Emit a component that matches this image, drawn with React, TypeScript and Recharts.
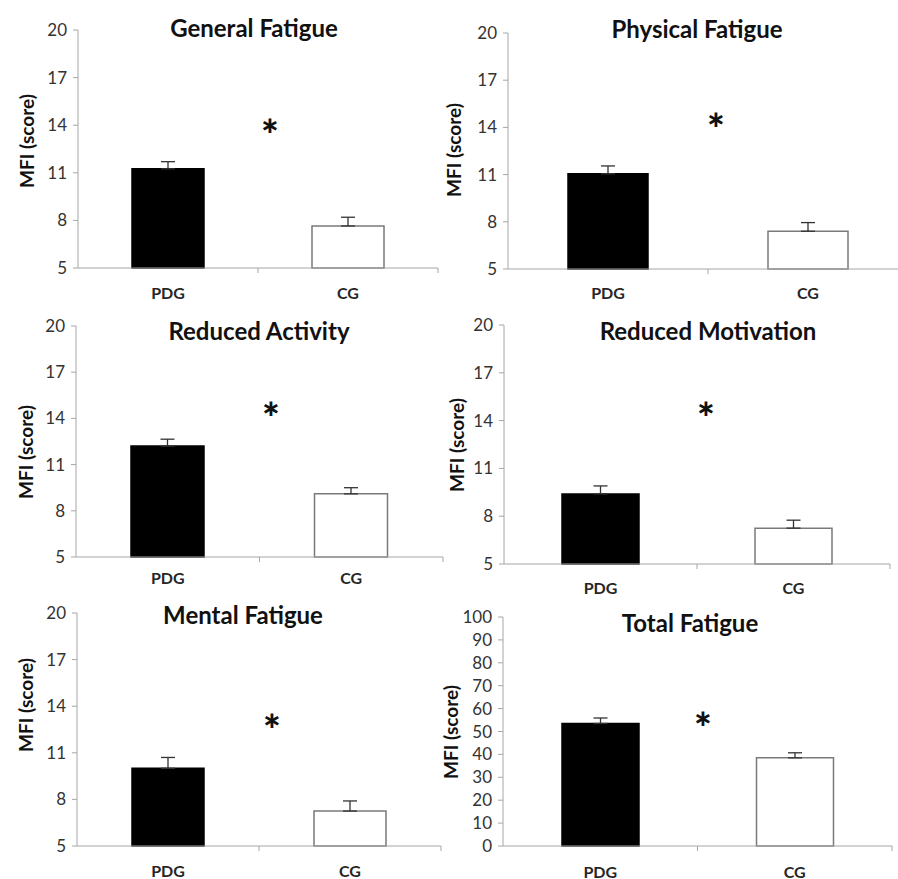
import React from 'react';
import { BarChart, Bar, XAxis, YAxis, ErrorBar, Cell } from 'recharts';

const groups = ['PDG', 'CG'];

const generalFatigue = [11.25, 7.65];
const generalFatigueErr = [0.45, 0.55];
const physicalFatigue = [11.05, 7.4];
const physicalFatigueErr = [0.5, 0.55];
const reducedActivity = [12.2, 9.1];
const reducedActivityErr = [0.45, 0.4];
const reducedMotivation = [9.4, 7.25];
const reducedMotivationErr = [0.5, 0.5];
const mentalFatigue = [10.0, 7.25];
const mentalFatigueErr = [0.7, 0.65];
const totalFatigue = [53.5, 38.5];
const totalFatigueErr = [2.4, 2.2];

const scoreTicks = [5, 8, 11, 14, 17, 20];
const totalTicks = [0, 10, 20, 30, 40, 50, 60, 70, 80, 90, 100];

const FONT = 'Lato, "Open Sans", sans-serif';
const AXIS = '#a6a6a6';
const fills = ['#000000', '#ffffff'];
const strokes = ['#000000', '#7a7a7a'];

const makeRows = (values: number[], errs: number[]) =>
  groups.map((g, i) => ({ group: g, value: values[i], err: [0, errs[i]] }));

const GroupTick = (props: any) => {
  const { x, y, payload, gap } = props;
  const off = payload.offset || 0;
  return (
    <g>
      <line x1={x + off} y1={y} x2={x + off} y2={y + 5} stroke={AXIS} />
      <text
        x={x}
        y={y + gap}
        textAnchor="middle"
        dominantBaseline="central"
        fontFamily={FONT}
        fontWeight="bold"
        fontSize={16}
        fill="#262626"
      >
        {payload.value}
      </text>
    </g>
  );
};

type PanelProps = {
  title: string;
  values: number[];
  errs: number[];
  ticks: number[];
  left: number;
  top: number;
  w: number;
  h: number;
  axisW: number;
  mTop: number;
  mRight: number;
  xH: number;
  gap: number;
  barSize: number;
  titleAt: [number, number];
  starAt: [number, number];
  labelAt: [number, number];
};

const Panel = (p: PanelProps) => {
  const data = makeRows(p.values, p.errs);
  return (
    <>
      <div style={{ position: 'absolute', left: p.left, top: p.top }}>
        <BarChart
          width={p.w}
          height={p.h}
          data={data}
          margin={{ top: p.mTop, right: p.mRight, bottom: 0, left: 0 }}
        >
          <XAxis
            dataKey="group"
            height={p.xH}
            axisLine={{ stroke: AXIS }}
            tickLine={false}
            tickSize={0}
            tickMargin={0}
            interval={0}
            tick={<GroupTick gap={p.gap} />}
          />
          <YAxis
            width={p.axisW}
            domain={[p.ticks[0], p.ticks[p.ticks.length - 1]]}
            ticks={p.ticks}
            interval={0}
            axisLine={{ stroke: AXIS }}
            tickLine={{ stroke: AXIS }}
            tickSize={5}
            tickMargin={6}
            tick={{ fill: '#333333', fontSize: 17, fontFamily: FONT }}
          />
          <Bar dataKey="value" barSize={p.barSize} isAnimationActive={false} strokeWidth={1.5}>
            {data.map((d, i) => (
              <Cell key={d.group} fill={fills[i]} stroke={strokes[i]} />
            ))}
            <ErrorBar dataKey="err" width={7} stroke="#333333" strokeWidth={1.3} direction="y" />
          </Bar>
        </BarChart>
      </div>
      <div
        style={{
          position: 'absolute',
          left: p.titleAt[0],
          top: p.titleAt[1],
          transform: 'translate(-50%, -50%)',
          fontFamily: FONT,
          fontWeight: 'bold',
          fontSize: 24,
          color: '#111',
          whiteSpace: 'nowrap',
        }}
      >
        {p.title}
      </div>
      <div
        style={{
          position: 'absolute',
          left: p.starAt[0],
          top: p.starAt[1],
          transform: 'translate(-50%, -28%)',
          fontFamily: FONT,
          fontWeight: 900,
          fontSize: 42,
          lineHeight: 1,
          color: '#111',
        }}
      >
        *
      </div>
      <div
        style={{
          position: 'absolute',
          left: p.labelAt[0],
          top: p.labelAt[1],
          transform: 'translate(-50%, -50%) rotate(-90deg)',
          fontFamily: FONT,
          fontWeight: 'bold',
          fontSize: 19,
          color: '#111',
          whiteSpace: 'nowrap',
        }}
      >
        MFI (score)
      </div>
    </>
  );
};

export default function App() {
  return (
    <div
      style={{
        position: 'absolute',
        left: 0,
        top: 0,
        width: 898,
        height: 879,
        overflow: 'hidden',
        background: '#fff',
      }}
    >
      <Panel title="General Fatigue" values={generalFatigue} errs={generalFatigueErr} ticks={scoreTicks}
        left={0} top={0} w={450} h={300} axisW={78} mTop={30} mRight={12} xH={32} gap={24} barSize={72}
        titleAt={[254, 27]} starAt={[270, 125]} labelAt={[26, 141]} />
      <Panel title="Physical Fatigue" values={physicalFatigue} errs={physicalFatigueErr} ticks={scoreTicks}
        left={440} top={0} w={470} h={300} axisW={68} mTop={33} mRight={2} xH={31} gap={23} barSize={80}
        titleAt={[697, 28]} starAt={[716, 119]} labelAt={[453, 150]} />
      <Panel title="Reduced Activity" values={reducedActivity} errs={reducedActivityErr} ticks={scoreTicks}
        left={0} top={290} w={450} h={300} axisW={76} mTop={36} mRight={7} xH={33} gap={20} barSize={73}
        titleAt={[259, 330]} starAt={[271, 408]} labelAt={[25, 452]} />
      <Panel title="Reduced Motivation" values={reducedMotivation} errs={reducedMotivationErr} ticks={scoreTicks}
        left={440} top={290} w={458} h={310} axisW={64} mTop={35} mRight={8} xH={36} gap={23} barSize={77}
        titleAt={[708, 330]} starAt={[706, 408]} labelAt={[456, 445]} />
      <Panel title="Mental Fatigue" values={mentalFatigue} errs={mentalFatigueErr} ticks={scoreTicks}
        left={0} top={590} w={450} h={289} axisW={77} mTop={23} mRight={9} xH={33} gap={24} barSize={72}
        titleAt={[243, 614]} starAt={[272, 720]} labelAt={[25, 705]} />
      <Panel title="Total Fatigue" values={totalFatigue} errs={totalFatigueErr} ticks={totalTicks}
        left={440} top={590} w={458} h={289} axisW={63} mTop={27} mRight={6} xH={33} gap={25} barSize={77}
        titleAt={[690, 622]} starAt={[703, 718]} labelAt={[450, 732]} />
    </div>
  );
}
